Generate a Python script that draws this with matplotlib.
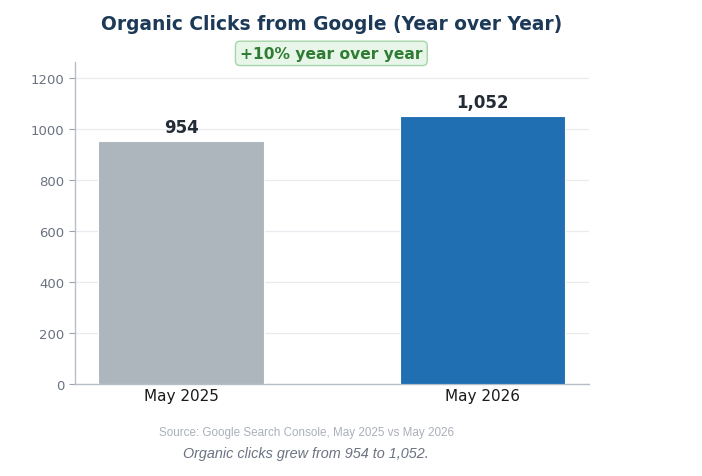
import matplotlib.pyplot as plt
import numpy as np

periods = ["May 2025", "May 2026"]
clicks = [954, 1052]
bar_colors = ["#adb5bd", "#1f6fb2"]
yticks = [0, 200, 400, 600, 800, 1000, 1200]

growth = (clicks[1] - clicks[0]) / clicks[0] * 100

fig = plt.figure(figsize=(7.02, 4.77), dpi=100)
ax = fig.add_axes([0.1068, 0.193, 0.732, 0.675])

x = np.arange(len(periods))
bars = ax.bar(x, clicks, width=0.55, color=bar_colors, edgecolor="white", linewidth=0.8, zorder=3)

for b, v in zip(bars, clicks):
    ax.text(b.get_x() + b.get_width() / 2, v + 18, f"{v:,}", ha="center", va="bottom",
            fontsize=12, fontweight="bold", color="#222b36")

ax.set_ylim(0, max(clicks) * 1.2)
ax.set_yticks(yticks)
ax.set_xticks(x)
ax.set_xticklabels(periods, fontsize=11, color="#1a1a1a")
ax.tick_params(axis="y", labelsize=9.5, labelcolor="#6b7280", color="#9ca3af", length=4)
ax.tick_params(axis="x", length=0, pad=3)
ax.grid(axis="y", color="#e8ebef", linewidth=0.9, zorder=0)
for s in ["top", "right"]:
    ax.spines[s].set_visible(False)
for s in ["left", "bottom"]:
    ax.spines[s].set_color("#b8bec7")
    ax.spines[s].set_linewidth(1.0)

fig.text(0.473, 0.949, "Organic Clicks from Google (Year over Year)", ha="center", va="center",
         fontsize=13.4, fontweight="bold", color="#1c3a57")
fig.text(0.472, 0.886, f"+{growth:.0f}% year over year", ha="center", va="center",
         fontsize=11.2, fontweight="bold", color="#2e7d32",
         bbox=dict(boxstyle="round,pad=0.3", facecolor="#e8f5e9", edgecolor="#a5d6a7", linewidth=1))

fig.text(0.436, 0.092, "Source: Google Search Console, May 2025 vs May 2026", ha="center", va="center",
         fontsize=8.4, color="#aab0ba", family=["Liberation Sans", "DejaVu Sans"])
fig.text(0.436, 0.048, f"Organic clicks grew from {clicks[0]:,} to {clicks[1]:,}.", ha="center", va="center",
         fontsize=10.4, style="italic", color="#6b7280", family=["Liberation Sans", "DejaVu Sans"])

fig.savefig("out.png", dpi=100)
